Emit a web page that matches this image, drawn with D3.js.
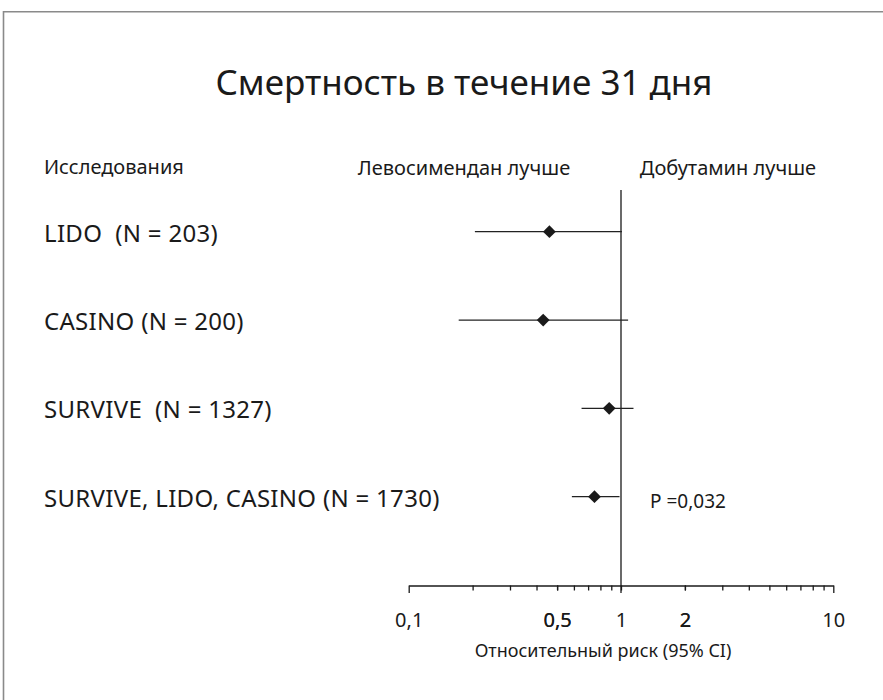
<!DOCTYPE html>
<html>
<head>
<meta charset="utf-8">
<script src="https://cdn.jsdelivr.net/npm/d3@7"></script>
<style>
  html, body { margin: 0; padding: 0; background: #fff; }
  svg text { font-family: "Noto Sans", "DejaVu Sans", sans-serif; fill: #1a1a1a; }
</style>
</head>
<body>
<svg id="chart" width="883" height="700"></svg>
<script>
// --- данные ---
const studies = ["LIDO  (N = 203)", "CASINO (N = 200)", "SURVIVE  (N = 1327)", "SURVIVE, LIDO, CASINO (N = 1730)"];
const riskRatio = [0.46, 0.43, 0.88, 0.75];
const ciLow = [0.205, 0.172, 0.652, 0.587];
const ciHigh = [1.01, 1.08, 1.145, 0.984];

const labelTicks = [0.1, 0.5, 1, 2, 10];
const labelText = ["0,1", "0,5", "1", "2", "10"];
const minorTicks = [0.2, 0.3, 0.4, 0.5, 0.6, 0.7, 0.8, 0.9, 2, 3, 4, 5, 6, 7, 8, 9];

const title = "Смертность в течение 31 дня";
const colHeader = "Исследования";
const leftHeader = "Левосимендан лучше";
const rightHeader = "Добутамин лучше";
const pText = "P =0,032";
const axisTitle = "Относительный риск (95% CI)";

// --- разметка ---
const svg = d3.select("#chart");
const axisY = 585.5;

const x = d3.scaleLog().domain([0.1, 10]).range([408.7, 833.3]);
const y = d3.scalePoint().domain(studies).range([231.7, 496.7]);

// рамка (видны только верх и левый край)
svg.append("path")
  .attr("d", "M3.5,700 V11.8 H883")
  .attr("fill", "none")
  .attr("stroke", "#8a8a8a")
  .attr("stroke-width", 1.6);

// заголовок
svg.append("text")
  .attr("x", 464).attr("y", 95)
  .attr("text-anchor", "middle")
  .style("font-size", "35px")
  .text(title);

// шапки столбцов
svg.append("text").attr("x", 44).attr("y", 174)
  .style("font-size", "20px").text(colHeader);
svg.append("text").attr("x", 464).attr("y", 175).attr("text-anchor", "middle")
  .style("font-size", "20px").text(leftHeader);
svg.append("text").attr("x", 728).attr("y", 175).attr("text-anchor", "middle")
  .style("font-size", "20px").text(rightHeader);

// подписи исследований
svg.append("g").selectAll("text")
  .data(studies)
  .enter().append("text")
  .attr("x", 44)
  .attr("y", d => y(d) + 10)
  .style("font-size", "24px")
  .style("letter-spacing", "0.3px")
  .style("white-space", "pre")
  .text(d => d);

// ось
const axis = d3.axisBottom(x)
  .tickValues(labelTicks.concat(minorTicks))
  .tickSizeInner(5)
  .tickSizeOuter(0)
  .tickPadding(22)
  .tickFormat(d => {
    const i = labelTicks.indexOf(d);
    return i >= 0 ? labelText[i] : "";
  });

const gAxis = svg.append("g")
  .attr("transform", `translate(0,${axisY})`)
  .call(axis);

gAxis.select(".domain").attr("stroke", "#1a1a1a").attr("stroke-width", 1.5);
gAxis.selectAll(".tick line")
  .attr("stroke", "#1a1a1a")
  .attr("stroke-width", 1.3)
  .attr("y2", d => (d === 0.1 || d === 10) ? 7.5 : 5);
gAxis.selectAll(".tick text")
  .style("font-size", "20px")
  .attr("fill", "#1a1a1a")
  .attr("font-family", null);

// подпись оси
svg.append("text")
  .attr("x", 603).attr("y", 657)
  .attr("text-anchor", "middle")
  .style("font-size", "18px")
  .text(axisTitle);

// линия RR = 1
svg.append("line")
  .attr("x1", x(1)).attr("x2", x(1))
  .attr("y1", 190).attr("y2", axisY + 7.5)
  .attr("stroke", "#1a1a1a")
  .attr("stroke-width", 1.3);

// доверительные интервалы
const rows = studies.map((s, i) => ({ s, rr: riskRatio[i], lo: ciLow[i], hi: ciHigh[i] }));

svg.append("g").selectAll("line")
  .data(rows)
  .enter().append("line")
  .attr("x1", d => x(d.lo))
  .attr("x2", d => x(d.hi))
  .attr("y1", d => y(d.s))
  .attr("y2", d => y(d.s))
  .attr("stroke", "#222")
  .attr("stroke-width", 1.2);

// точки (ромбы)
svg.append("g").selectAll("path")
  .data(rows)
  .enter().append("path")
  .attr("d", d3.symbol().type(d3.symbolSquare).size(82))
  .attr("transform", d => `translate(${x(d.rr)},${y(d.s)}) rotate(45)`)
  .attr("fill", "#1a1a1a");

// p-значение
svg.append("text")
  .attr("x", 650)
  .attr("y", y(studies[3]) + 11)
  .style("font-size", "19px")
  .text(pText);
</script>
</body>
</html>
